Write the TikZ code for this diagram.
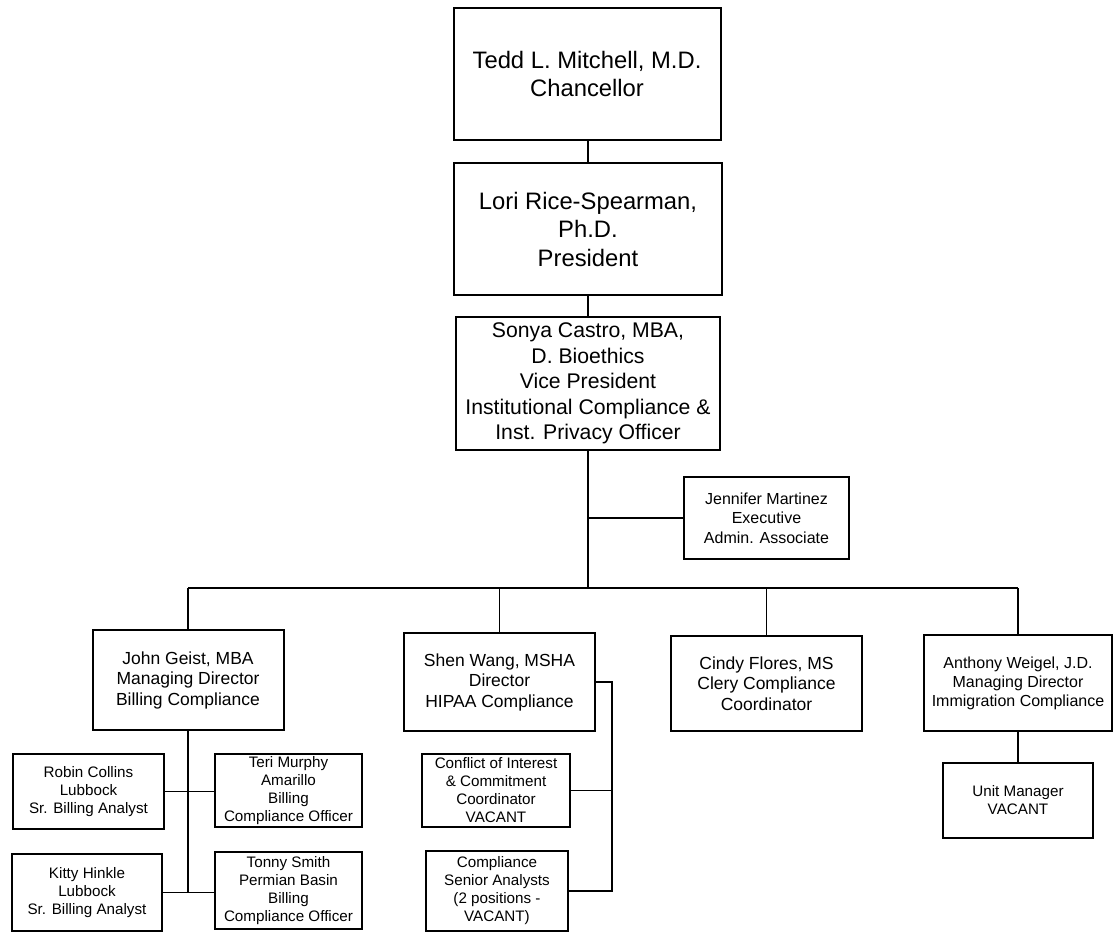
\documentclass[tikz,border=0pt]{standalone}
\usepackage{fontspec}
\setmainfont{Liberation Sans}

\begin{document}
\begin{tikzpicture}[x=1pt,y=-1pt,
   every node/.style={draw,rectangle,line width=2pt,align=center,inner sep=0pt},
   topbox/.style={font=\fontsize{23.8}{28.5}\selectfont},
   vpbox/.style={font=\fontsize{21.2}{25.5}\selectfont},
   midbox/.style={font=\fontsize{17.5}{20.5}\selectfont},
   subbox/.style={font=\fontsize{15.2}{18}\selectfont},
   link/.style={line width=1.6pt}]

\useasboundingbox (0,0) rectangle (1116,936);

\node[topbox,minimum width=267,minimum height=132] (chancellor) at (587,74)
   {Tedd L. Mitchell, M.D.\\Chancellor};
\node[topbox,minimum width=268,minimum height=132] (president) at (588,229)
   {Lori Rice-Spearman,\\Ph.D.\\President};
\node[vpbox,minimum width=264,minimum height=133] (vp) at (588,383.5)
   {Sonya Castro, MBA,\\D. Bioethics\\Vice President\\Institutional Compliance \&\\Inst. Privacy Officer};
\node[font=\fontsize{16}{19.5}\selectfont,minimum width=165,minimum height=82] (jennifer) at (766.5,518)
   {Jennifer Martinez\\Executive\\Admin. Associate};

\coordinate (hub) at (588,588);
\coordinate (shenbus) at (612,682);

\node[midbox,minimum width=191,minimum height=100] (john) at (188,680)
   {John Geist, MBA\\Managing Director\\Billing Compliance};
\node[midbox,minimum width=191,minimum height=98] (shen) at (499.5,682)
   {Shen Wang, MSHA\\Director\\HIPAA Compliance};
\node[midbox,minimum width=191,minimum height=95] (cindy) at (766.5,683.5)
   {Cindy Flores, MS\\Clery Compliance\\Coordinator};
\node[font=\fontsize{16}{19}\selectfont,minimum width=188,minimum height=96] (anthony) at (1018,683)
   {Anthony Weigel, J.D.\\Managing Director\\Immigration Compliance};

\node[subbox,minimum width=151,minimum height=75] (robin) at (88.5,791.5)
   {Robin Collins\\Lubbock\\Sr. Billing Analyst};
\node[subbox,minimum width=147,minimum height=73] (teri) at (288.5,790.5)
   {Teri Murphy\\Amarillo\\Billing\\Compliance Officer};
\node[subbox,minimum width=150,minimum height=77] (kitty) at (87,892.5)
   {Kitty Hinkle\\Lubbock\\Sr. Billing Analyst};
\node[subbox,minimum width=147,minimum height=77] (tonny) at (288.5,890.5)
   {Tonny Smith\\Permian Basin\\Billing\\Compliance Officer};

\node[subbox,minimum width=148,minimum height=73] (coi) at (496,790.5)
   {Conflict of Interest\\\& Commitment\\Coordinator\\VACANT};
\node[subbox,minimum width=142,minimum height=80] (compl) at (497,891)
   {Compliance\\Senior Analysts\\(2 positions -\\VACANT)};

\node[subbox,minimum width=150,minimum height=75] (unitmgr) at (1018,800.5)
   {Unit Manager\\VACANT};

\draw[link] (chancellor.south -| president.north) -- (president.north);
\draw[link] (president.south) -- (vp.north);
\draw[link] (vp.south) -- (hub);
\draw[link] (vp.south |- jennifer.west) -- (jennifer.west);
\draw[link] (john.north |- hub) -- (anthony.north |- hub);
\foreach \n in {john,shen,cindy,anthony}
   \draw[link] (\n.north) -- (\n.north |- hub);

\draw[link] (john.south) -- (john.south |- kitty.east);
\draw[link] (robin.east) -- (robin.east -| teri.west);
\draw[link] (kitty.east) -- (kitty.east -| tonny.west);

\draw[link] (shen.east) -- (shenbus) |- (compl.east);
\draw[link] (coi.east) -- (coi.east -| shenbus);

\draw[link] (anthony.south) -- (unitmgr.north);

\end{tikzpicture}
\end{document}
